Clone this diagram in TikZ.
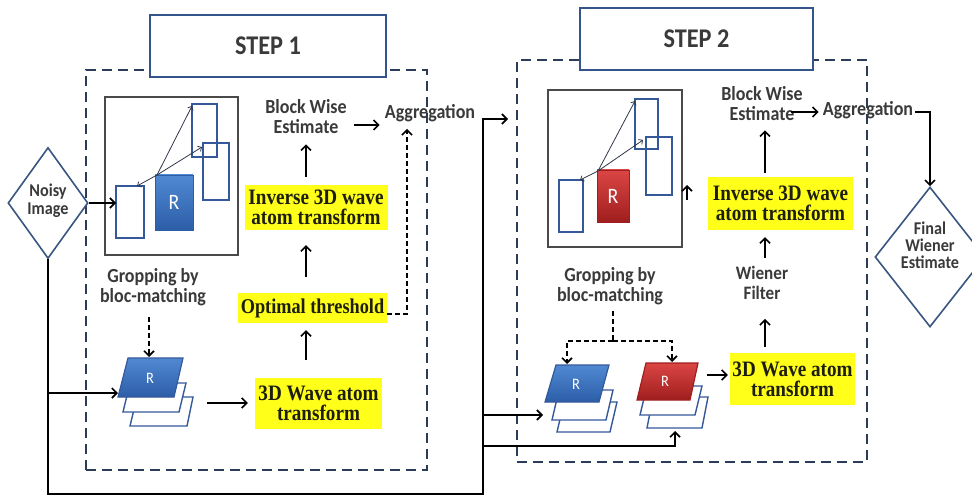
\documentclass[tikz,border=0pt]{standalone}
\usepackage{fontspec}
\setmainfont{Carlito}[FakeStretch=0.9]
\newfontfamily\yfont{Liberation Serif}[FakeStretch=0.87,BoldFont={Liberation Serif Bold}]
\usetikzlibrary{arrows.meta,shapes.geometric,calc}
\definecolor{framec}{HTML}{2C3C58}
\definecolor{stepc}{HTML}{33558C}
\definecolor{imgc}{HTML}{4A4A4A}
\definecolor{outc}{HTML}{34589A}
\definecolor{txtc}{HTML}{3A3A3A}
\definecolor{yel}{HTML}{FFFF1A}
\definecolor{ytxt}{HTML}{1E1E10}
\definecolor{darkc}{HTML}{303848}
\definecolor{diac}{HTML}{3A5580}
\definecolor{blueT}{HTML}{5089D2}
\definecolor{blueB}{HTML}{2C5EA8}
\definecolor{redT}{HTML}{DA4644}
\definecolor{redB}{HTML}{A01E1E}
\tikzset{
  frame/.style={draw=framec, line width=1.8pt, dash pattern=on 10pt off 6pt, inner sep=0pt, outer sep=0pt},
  stepbox/.style={draw=stepc, line width=2pt, fill=white, minimum width=236pt, minimum height=62pt, inner sep=0pt, font=\bfseries\fontsize{27}{27}\selectfont, text=txtc},
  imgbox/.style={draw=imgc, line width=1.4pt, inner sep=0pt, outer sep=0pt},
  blk/.style={draw=outc, line width=1.4pt, inner sep=0pt, outer sep=0pt},
  lbl/.style={font=\bfseries\fontsize{20}{20}\selectfont, text=txtc, align=center, inner sep=2pt},
  ybox/.style={fill=yel, inner sep=0pt, font={\yfont\bfseries\fontsize{22}{20}\selectfont}, text=ytxt, align=center},
  arr/.style={draw=black, line width=1.6pt, -{Straight Barb[length=5pt,width=10pt]}},
  plainline/.style={draw=black, line width=1.6pt},
  thinarr/.style={draw=darkc, line width=0.8pt, -{Straight Barb[length=3pt,width=6pt]}},
  dasharr/.style={arr, dash pattern=on 5pt off 3pt},
  dashline/.style={plainline, dash pattern=on 5pt off 3pt},
  dia/.style={diamond, draw=diac, line width=1.6pt, inner sep=0pt, fill=white},
  rtxt/.style={text=white, font=\fontsize{16}{16}\selectfont, inner sep=0pt},
  rbig/.style={text=white, font=\fontsize{22}{22}\selectfont, inner sep=0pt},
  outpara/.style={draw=outc, line width=1.4pt, fill=white},
  bluepara/.style={draw=outc, line width=1.2pt, top color=blueT, bottom color=blueB},
  redpara/.style={draw=redB, line width=1.2pt, top color=redT, bottom color=redB},
}
\begin{document}
\begin{tikzpicture}[x=1pt,y=-1pt]
\useasboundingbox (0,0) rectangle (972,497);
\fill[white] (0,0) rectangle (972,497);

% ---------- frames and titles
\node[frame, minimum width=341pt, minimum height=400pt] (f1) at (256.5,270) {};
\node[frame, minimum width=350pt, minimum height=402pt] (f2) at (692,261) {};
\node[stepbox] (s1) at (268,46) {STEP 1};
\node[stepbox, minimum width=233pt] (s2) at (696.5,39) {STEP 2};

% ---------- STEP 1 image box
\node[imgbox, minimum width=133pt, minimum height=158pt] (img1) at (171.5,176) {};
\node[blk, minimum width=28pt, minimum height=52pt] (A1) at (130,212) {};
\node[draw=blueB, line width=0.8pt, top color=blueT, bottom color=blueB, minimum width=38pt, minimum height=55pt, inner sep=0pt] (R1) at (174,202.5) {};
\node[rbig] (R1t) at (R1.center) {R};
\node[blk, minimum width=25pt, minimum height=53pt] (T1) at (204.5,130.5) {};
\node[blk, minimum width=26pt, minimum height=57pt] (Rt1) at (216,171.5) {};
\coordinate (o1) at (157,175);
\draw[thinarr] (o1) -- ([yshift=-2pt]T1.north west);
\draw[thinarr] (o1) -- ([yshift=-4pt,xshift=-1pt]Rt1.north west);
\draw[thinarr] (o1) -- ([xshift=-7pt]A1.north east);

% ---------- Noisy image
\node[dia, minimum width=80pt, minimum height=111pt] (noisy) at (48,203) {};
\node[lbl, font=\bfseries\fontsize{18}{18}\selectfont] (noisyt) at (48,201) {Noisy\\Image};
\draw[arr] (noisy.east) -- (noisy.east -| A1.west);

% ---------- STEP 1 texts
\node[lbl] (bwe1) at (306,117) {Block Wise\\Estimate};
\node[lbl] (agg1) at (430,113) {Aggregation};
\node[ybox, minimum width=143pt, minimum height=45pt] (inv1) at (316,207.5) {Inverse 3D wave\\atom transform};
\node[ybox, minimum width=149pt, minimum height=30pt, font={\yfont\bfseries\fontsize{21}{20}\selectfont}] (opt1) at (312.5,308) {Optimal threshold};
\node[ybox, minimum width=127pt, minimum height=51pt] (wave1) at (318.5,403.5) {3D Wave atom\\transform};
\node[lbl] (gbm1) at (153,287) {Gropping by\\bloc-matching};

\draw[arr, shorten <=8pt, shorten >=8pt] (inv1.north -| bwe1.south) -- (bwe1.south);
\draw[arr, shorten <=16pt, shorten >=15pt] (opt1.north -| bwe1.south) -- (inv1.south -| bwe1.south);
\draw[arr, shorten <=18pt, shorten >=7pt] (wave1.north -| bwe1.south) -- (opt1.south -| bwe1.south);
\draw[arr, shorten <=5pt, shorten >=3pt] ([yshift=-8pt]bwe1.east) coordinate (e1) -- (e1 -| agg1.west);
\coordinate (d1) at (407,314);
\draw[dasharr, shorten >=5pt] (opt1.east |- d1) -- (d1) -- (d1 |- agg1.south);

% ---------- STEP 1 stack
\draw[outpara] (130,426) -- (187,426) -- (193,397) -- (137,397) -- cycle;
\draw[outpara] (123,412) -- (179,412) -- (186,383) -- (130,383) -- cycle;
\draw[bluepara] (118,397) -- (174,397) -- (183,358) -- (128,358) -- cycle;
\node[rtxt] (r1s) at (150,378) {R};
\coordinate (stk1n) at (149,357);
\coordinate (stk1w) at (118,393);
\coordinate (stk1e) at (207,403);
\draw[dasharr, shorten <=9pt] (gbm1.south -| stk1n) -- (stk1n);
\draw[arr, shorten >=7pt] (stk1e) -- (stk1e -| wave1.west);

% ---------- main connector lines
\coordinate (j1) at (48,393);
\coordinate (b2) at (483,494);
\coordinate (up2) at (483,119);
\draw[arr] (noisy.south) |- (b2) -- (up2) -- ([xshift=-9pt]up2 -| f2.west);
\draw[arr] (j1) -- (stk1w);

% ---------- STEP 2 image box
\node[imgbox, minimum width=134pt, minimum height=157pt] (img2) at (615,168.5) {};
\node[blk, minimum width=24pt, minimum height=52pt] (A2) at (571,206) {};
\node[draw=redB, line width=0.8pt, top color=redT, bottom color=redB, minimum width=32pt, minimum height=52pt, inner sep=0pt] (R2) at (613,196) {};
\node[rbig] (R2t) at (R2.center) {R};
\node[blk, minimum width=23pt, minimum height=50pt] (T2) at (646.5,124) {};
\node[blk, minimum width=26pt, minimum height=58pt] (Rt2) at (659,166) {};
\coordinate (o2) at (598,171);
\draw[thinarr] (o2) -- ([yshift=-2pt]T2.north west);
\draw[thinarr] (o2) -- ([yshift=-3pt,xshift=-3pt]Rt2.north west);
\draw[thinarr] (o2) -- ([xshift=-3pt]A2.north east);
\coordinate (sa1) at (687,200);
\coordinate (sa2) at (687,185);
\draw[arr] (sa1) -- (sa2);

% ---------- STEP 2 texts
\node[lbl] (bwe2) at (762,104) {Block Wise\\Estimate};
\node[lbl] (agg2) at (868,110) {Aggregation};
\node[ybox, minimum width=145pt, minimum height=53pt] (inv2) at (780.5,203.5) {Inverse 3D wave\\atom transform};
\node[lbl, font=\bfseries\fontsize{19}{20}\selectfont] (wf2) at (762,283) {Wiener\\Filter};
\node[ybox, minimum width=125pt, minimum height=52pt] (wave2) at (792.5,379) {3D Wave atom\\transform};
\node[lbl] (gbm2) at (610,286) {Gropping by\\bloc-matching};

\node[dia, minimum width=110pt, minimum height=140pt] (final) at (930,257) {};
\node[lbl, font=\bfseries\fontsize{18}{17}\selectfont] (finalt) at (930,245) {Final\\Wiener\\Estimate};

\coordinate (e2) at (791,112);
\draw[arr, shorten >=2pt] (e2) -- (e2 -| agg2.west);
\coordinate (c2) at (930,112);
\draw[arr] (agg2.east |- c2) -- (c2) -- (final.north);
\coordinate (x2) at (765,0);
\draw[arr, shorten <=4pt, shorten >=7pt] (inv2.north -| x2) -- (bwe2.south -| x2);
\draw[arr, shorten <=6pt, shorten >=7pt] (wf2.north -| x2) -- (inv2.south -| x2);
\draw[arr, shorten <=6pt, shorten >=17pt] (wave2.north -| x2) -- (wf2.south -| x2);

% ---------- STEP 2 stacks
\draw[outpara] (557,432) -- (610,432) -- (617,402) -- (564,402) -- cycle;
\draw[outpara] (552,420) -- (606,420) -- (613,390) -- (559,390) -- cycle;
\draw[bluepara] (545,402) -- (599,402) -- (609,365) -- (556,365) -- cycle;
\node[rtxt] (r2s) at (576,384) {R};
\draw[outpara] (647,428) -- (702,428) -- (708,397) -- (653,397) -- cycle;
\draw[outpara] (640,415) -- (695,415) -- (702,386) -- (647,386) -- cycle;
\draw[redpara] (637,400) -- (690,400) -- (698,363) -- (646,363) -- cycle;
\node[rtxt] (r3s) at (665,381) {R};

\coordinate (g2) at (613,341);
\coordinate (stk2n) at (567,364);
\coordinate (stk3n) at (672,362);
\draw[dashline, shorten <=4pt] (gbm2.south -| g2) -- (g2);
\draw[dasharr] (g2) -| (stk2n);
\draw[dasharr] (g2) -| (stk3n);
\coordinate (stk3e) at (707,375);
\draw[arr, shorten >=2pt] (stk3e) -- (stk3e -| wave2.west);

\coordinate (j2) at (483,415);
\coordinate (stk2w) at (543,415);
\draw[arr] (j2) -- (stk2w);
\coordinate (j3) at (483,446);
\coordinate (stk3s) at (675,431);
\draw[arr] (j3) -| (stk3s);
\end{tikzpicture}
\end{document}
